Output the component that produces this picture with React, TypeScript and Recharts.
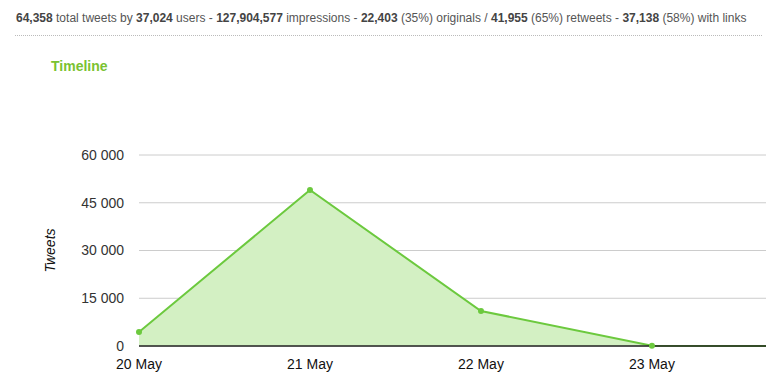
import React from 'react';
import { AreaChart, Area, XAxis, YAxis, CartesianGrid, ReferenceLine } from 'recharts';

const categories = ['20 May', '21 May', '22 May', '23 May', '24 May'];
const tweets = [4400, 49000, 11000, 100, 0];
const yTicks = [0, 15000, 30000, 45000, 60000];
const xTicks = [0, 1, 2, 3];

const data = categories.map((c, i) => ({ idx: i, label: c, tweets: tweets[i] }));

const fmtY = (v: number) => String(v).replace(/\B(?=(\d{3})+(?!\d))/g, ' ');

const FONT = '"Liberation Sans", Arial, Helvetica, sans-serif';

export default function App() {
  const b = { fontWeight: 'bold', color: '#444' } as React.CSSProperties;
  return (
    <div style={{ position: 'absolute', left: 0, top: 0, width: 766, height: 384, background: '#fff', overflow: 'hidden', fontFamily: FONT }}>
      <div style={{ position: 'absolute', left: 16, top: 11, fontSize: 12, color: '#555', whiteSpace: 'nowrap' }}>
        <span style={b}>64,358</span> total tweets by <span style={b}>37,024</span> users - <span style={b}>127,904,577</span> impressions - <span style={b}>22,403</span> (35%) originals / <span style={b}>41,955</span> (65%) retweets - <span style={b}>37,138</span> (58%) with links
      </div>
      <div style={{ position: 'absolute', left: 15, top: 35, width: 747, borderTop: '1px dotted #bbb' }} />
      <div style={{ position: 'absolute', left: 51, top: 58, fontSize: 14, fontWeight: 'bold', color: '#7ac231' }}>Timeline</div>
      <div style={{ position: 'absolute', left: 0, top: 0 }}>
        <AreaChart width={766} height={384} data={data} margin={{ top: 155, right: 0, bottom: 0, left: 79 }}>
          <CartesianGrid horizontal vertical={false} stroke="#cccccc" />
          <XAxis
            dataKey="idx"
            type="number"
            domain={[0, 3.667]}
            allowDataOverflow
            ticks={xTicks}
            tickFormatter={(v: number) => categories[v]}
            axisLine={false}
            tickLine={false}
            tickMargin={7}
            height={38}
            tick={{ fill: '#111', fontSize: 14, fontFamily: FONT }}
            interval={0}
          />
          <YAxis
            domain={[0, 60000]}
            ticks={yTicks}
            tickFormatter={fmtY}
            axisLine={false}
            tickLine={false}
            tickMargin={9}
            width={60}
            tick={{ fill: '#333', fontSize: 14, fontFamily: FONT }}
            label={{ value: 'Tweets', angle: -90, position: 'insideLeft', offset: -29, style: { fontStyle: 'italic', fontSize: 14, fill: '#111', fontFamily: FONT, textAnchor: 'middle' } }}
          />
          <ReferenceLine y={0} stroke="#222" strokeWidth={1.5} />
          <Area
            type="linear"
            dataKey="tweets"
            stroke="#6cc93e"
            strokeWidth={2}
            fill="#d3f0c3"
            fillOpacity={1}
            dot={{ r: 3, fill: '#6cc93e', stroke: '#6cc93e', strokeWidth: 0, clipDot: false }}
            activeDot={false}
            isAnimationActive={false}
          />
        </AreaChart>
      </div>
    </div>
  );
}
